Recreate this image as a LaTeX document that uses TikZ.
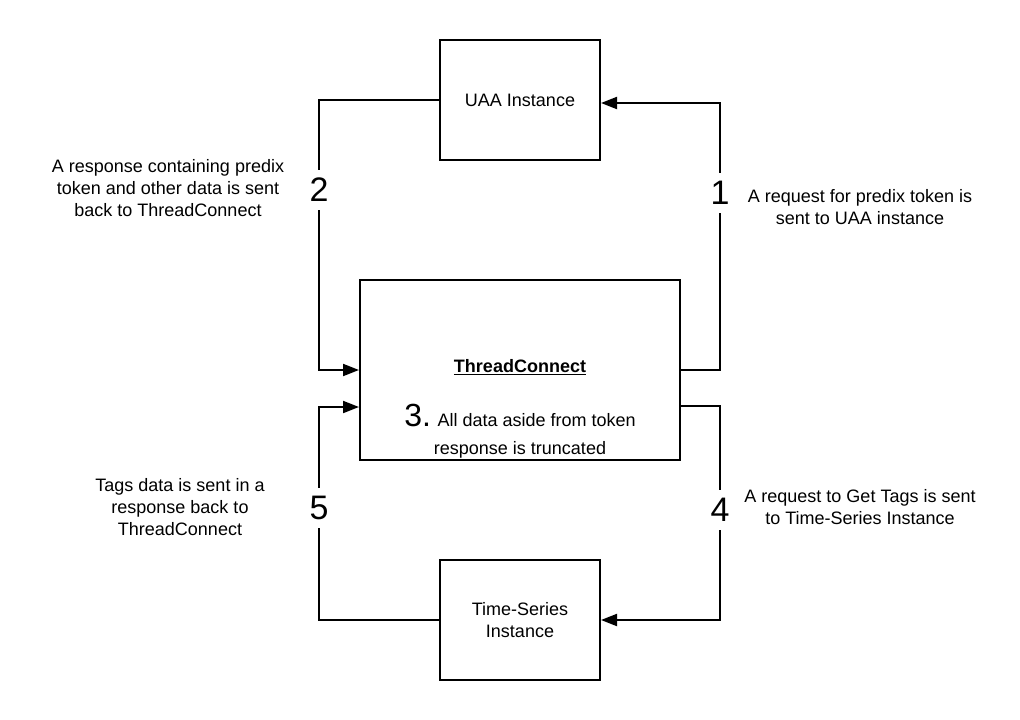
\documentclass[tikz,border=0pt]{standalone}
\usepackage{fontspec}
\setmainfont{Liberation Sans}
\usetikzlibrary{arrows.meta}
\begin{document}
\begin{tikzpicture}[x=1pt,y=-1pt,
  box/.style={draw,line width=2pt,inner sep=0pt,align=center,font=\fontsize{18}{22}\selectfont},
  lbl/.style={align=center,font=\fontsize{18}{22}\selectfont,inner sep=0pt},
  num/.style={font=\fontsize{34}{34}\selectfont,inner sep=0pt,minimum height=40pt,minimum width=20pt},
  conn/.style={line width=2pt},
  arr/.style={line width=2pt,-{Triangle[length=16pt,width=12pt]}}]
\useasboundingbox (0,0) rectangle (1020,720);
\node[box,minimum width=160pt,minimum height=120pt] (uaa) at (520,100) {UAA Instance};
\node[box,minimum width=320pt,minimum height=180pt] (tc) at (520,370) {};
\node[font=\fontsize{18}{22}\selectfont\bfseries,inner sep=0pt] (tct) at (520,367) {\underline{ThreadConnect}};
\node[lbl,font=\fontsize{18}{28}\selectfont] (tcl) at (520,431) {{\fontsize{32}{32}\selectfont 3.} All data aside from token\\response is truncated};
\node[box,minimum width=160pt,minimum height=120pt] (ts) at (520,620) {Time-Series\\Instance};
\node[num] (n1) at (720,193) {1};
\node[num] (n2) at (319,190) {2};
\node[num] (n4) at (720,510) {4};
\node[num] (n5) at (319,508) {5};
\node[lbl] (l1) at (860,207) {A request for predix token is\\sent to UAA instance};
\node[lbl] (l2) at (168,188) {A response containing predix\\token and other data is sent\\back to ThreadConnect};
\node[lbl] (l4) at (860,507) {A request to Get Tags is sent\\to Time-Series Instance};
\node[lbl] (l5) at (180,507) {Tags data is sent in a\\response back to\\ThreadConnect};
\draw[conn] (tc.east) -| (n1.south);
\draw[arr] (n1.north) |- ([yshift=-3pt]uaa.east);
\draw[conn] (uaa.west) -| (n2.north);
\draw[arr] (n2.south) |- (tc.west);
\draw[conn] ([yshift=-36pt]tc.east) -| (n4.north);
\draw[arr] (n4.south) |- (ts.east);
\draw[conn] (ts.west) -| (n5.south);
\draw[arr] (n5.north) |- ([yshift=-37pt]tc.west);
\end{tikzpicture}
\end{document}
